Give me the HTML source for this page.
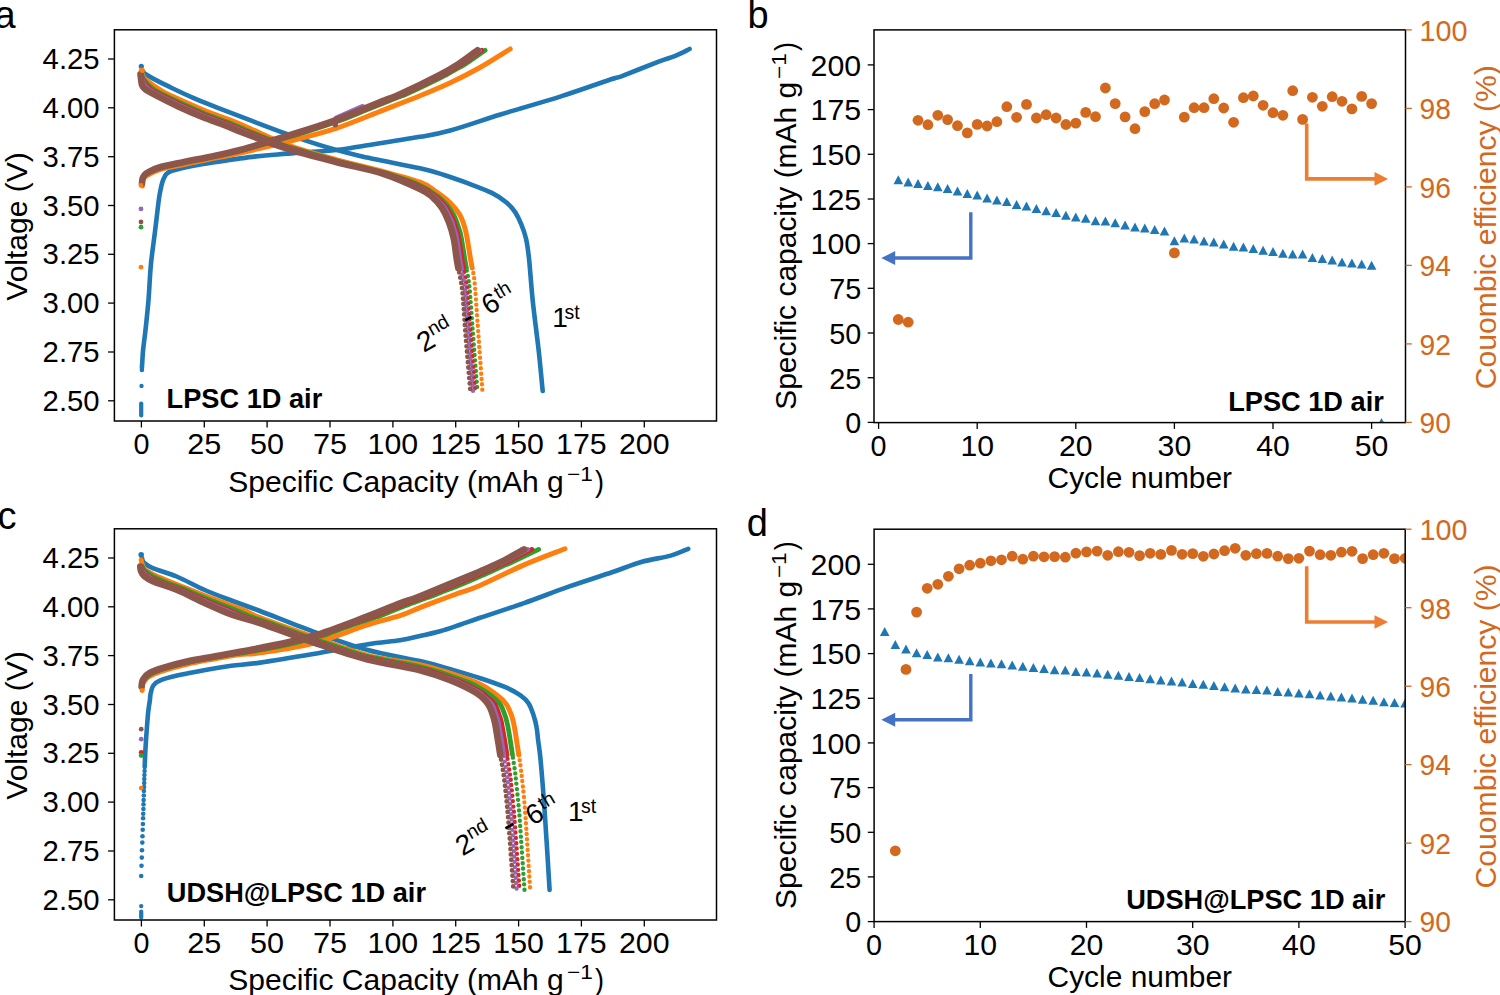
<!DOCTYPE html>
<html><head><meta charset="utf-8"><title>figure</title>
<style>html,body{margin:0;padding:0;background:#fff;overflow:hidden}svg{display:block}text{font-family:"Liberation Sans",sans-serif}</style>
</head><body>
<svg width="1500" height="995" viewBox="0 0 1500 995" font-family="Liberation Sans, sans-serif">
<rect width="1500" height="995" fill="#fff"/>
<text x="-5.5" y="27.9" font-size="38.0">a</text>
<text x="747.5" y="27.9" font-size="38.0">b</text>
<text x="-2.5" y="528.8" font-size="38.0">c</text>
<text x="746.8" y="535.6" font-size="38.0">d</text>
<clipPath id="clipa"><rect x="114.4" y="29.8" width="602.1" height="391.2"/></clipPath>
<g clip-path="url(#clipa)">
<path d="M141.9,368.0 C142.0,366.7 142.2,363.0 142.4,360.0 C142.6,357.0 142.6,355.0 143.1,350.0 C143.6,345.0 144.6,338.3 145.5,330.0 C146.4,321.7 147.6,310.9 148.5,300.0 C149.4,289.1 149.8,276.3 150.9,264.6 C152.0,252.9 153.9,240.8 155.2,230.0 C156.5,219.2 157.9,206.7 158.8,200.0 C159.7,193.3 159.9,193.0 160.5,190.0 C161.1,187.0 161.7,184.2 162.4,182.0 C163.1,179.8 163.8,178.3 164.5,177.0 C165.2,175.7 165.2,175.0 166.4,174.0 C167.7,173.0 167.7,172.1 172.0,170.8 C176.3,169.5 184.7,167.5 192.0,166.0 C199.3,164.5 205.3,163.6 216.0,162.0 C226.7,160.4 244.0,157.8 256.0,156.4 C268.0,155.0 274.7,154.7 288.0,153.6 C301.3,152.5 324.0,151.2 336.0,150.0 C348.0,148.8 346.0,148.6 360.0,146.4 C374.0,144.2 404.9,139.5 420.0,136.8 C435.1,134.2 436.9,134.2 450.3,130.5 C463.7,126.8 482.1,120.2 500.5,114.5 C518.9,108.8 542.5,102.3 560.9,96.4 C579.3,90.5 601.0,82.7 611.1,79.3 C621.2,75.9 613.4,79.2 621.3,76.3 C629.2,73.3 649.8,65.0 658.7,61.6 C667.6,58.2 669.6,58.2 674.7,56.1 C679.9,54.0 687.1,50.2 689.6,49.0" fill="none" stroke="#1f77b4" stroke-width="4.6" stroke-linecap="round" stroke-linejoin="round" />
<circle cx="141.3" cy="66.3" r="2.6" fill="#1f77b4"/>
<path d="M143.5,72.0 C143.7,72.2 142.7,72.3 144.5,73.5 C146.3,74.7 149.8,76.8 154.1,79.1 C158.4,81.4 163.5,84.0 170.2,87.2 C176.9,90.4 186.3,94.9 194.4,98.4 C202.5,101.9 209.2,104.5 218.5,108.1 C227.8,111.7 238.4,115.8 250.0,120.2 C261.6,124.6 275.7,130.0 288.0,134.4 C300.3,138.8 312.0,142.8 324.0,146.4 C336.0,150.0 344.0,152.3 360.0,156.0 C376.0,159.7 406.0,165.1 420.0,168.3 C434.0,171.5 436.1,172.5 444.1,175.0 C452.1,177.5 460.2,180.4 468.2,183.4 C476.2,186.4 485.9,189.9 492.3,193.1 C498.7,196.3 503.0,199.5 506.8,202.7 C510.6,205.9 512.9,208.8 515.3,212.4 C517.7,216.0 519.5,220.0 521.3,224.4 C523.1,228.8 524.8,233.1 526.1,238.9 C527.4,244.7 528.0,249.1 529.1,259.4 C530.2,269.6 531.1,285.2 532.7,300.4 C534.3,315.6 537.0,335.6 538.7,350.7 C540.4,365.8 542.0,384.3 542.7,391.0" fill="none" stroke="#1f77b4" stroke-width="4.6" stroke-linecap="round" stroke-linejoin="round" />
<line x1="141.2" y1="403.5" x2="141.2" y2="415.5" stroke="#1f77b4" stroke-width="4.2" stroke-linecap="round"/>
<circle cx="141.5" cy="385.9" r="2.2" fill="#1f77b4"/>
<circle cx="141.9" cy="369.9" r="2.3" fill="#1f77b4"/>
<path d="M142.4,186.0 C142.5,185.2 142.5,182.3 142.8,181.0 C143.1,179.7 143.5,178.8 144.0,178.0 C144.5,177.2 145.2,176.6 146.0,176.0 C146.8,175.4 146.7,175.5 149.0,174.4 C151.3,173.3 154.2,171.2 160.0,169.5 C165.8,167.8 176.0,166.2 184.0,164.5 C192.0,162.8 198.7,161.4 208.0,159.5 C217.3,157.6 226.7,156.0 240.0,153.0 C253.3,150.0 272.0,145.7 288.0,141.6 C304.0,137.5 320.0,133.7 336.0,128.4 C352.0,123.1 370.0,115.2 384.0,109.8 C398.0,104.4 408.9,100.3 420.0,95.8 C431.1,91.3 440.3,87.5 450.3,82.8 C460.3,78.1 470.0,73.1 480.0,67.5 C490.0,61.9 505.2,52.1 510.2,49.0" fill="none" stroke="#ff7f0e" stroke-width="5.0" stroke-linecap="round" stroke-linejoin="round" />
<path d="M141.3,70.3 C141.5,71.1 141.7,73.4 142.5,75.0 C143.3,76.6 142.8,77.3 146.1,80.0 C149.4,82.7 155.5,87.5 162.2,91.2 C168.9,95.0 178.3,98.9 186.3,102.5 C194.3,106.1 202.4,109.7 210.4,112.9 C218.4,116.1 228.0,119.2 234.6,121.8 C241.2,124.4 241.1,124.6 250.0,128.5 C258.9,132.4 273.7,140.0 288.0,145.2 C302.3,150.4 320.0,155.2 336.0,159.6 C352.0,164.0 370.0,167.8 384.0,171.6 C398.0,175.4 411.6,179.0 420.0,182.2 C428.4,185.4 429.5,187.2 434.5,190.6 C439.5,194.0 445.9,198.7 450.1,202.7 C454.3,206.7 457.2,210.0 459.8,214.8 C462.4,219.6 464.0,224.2 465.8,231.6 C467.6,239.0 469.5,253.3 470.6,259.4 C471.7,265.5 471.9,266.6 472.2,268.0" fill="none" stroke="#ff7f0e" stroke-width="5.0" stroke-linecap="round" stroke-linejoin="round" />
<path d="M472.2,268.0 C472.5,270.1 473.5,271.6 474.4,280.3 C475.3,289.1 476.1,302.1 477.4,320.5 C478.7,338.9 481.6,379.2 482.4,390.9" fill="none" stroke="#ff7f0e" stroke-width="4.4" stroke-linecap="round" stroke-linejoin="round" stroke-dasharray="0 5.3" stroke-dashoffset="0.00"/>
<path d="M142.1,183.6 C142.2,183.2 142.3,181.6 142.4,181.0 C142.4,180.4 142.4,180.5 142.5,180.0 C142.7,179.5 143.0,178.5 143.2,178.0 C143.4,177.5 143.4,177.5 143.6,177.2 C143.8,176.9 144.1,176.4 144.5,176.0 C144.9,175.6 145.1,175.1 146.0,174.5 C146.8,173.9 147.7,173.2 149.4,172.4 C151.1,171.6 153.8,170.4 156.0,169.5 C158.3,168.6 159.5,168.0 162.8,167.2 C166.0,166.4 171.3,165.4 175.3,164.5 C179.4,163.6 183.0,162.8 187.0,162.0 C191.0,161.2 195.4,160.3 199.4,159.5 C203.3,158.7 205.7,158.3 210.8,157.2 C215.9,156.1 224.6,154.2 230.0,153.0 C235.4,151.8 236.0,151.9 243.2,150.0 C250.3,148.1 264.6,144.0 273.0,141.6 C281.4,139.2 286.2,137.8 293.5,135.6 C300.7,133.4 308.6,131.0 316.6,128.4 C324.6,125.8 333.1,123.1 341.4,120.0 C349.8,116.9 358.7,113.0 366.8,109.8 C374.9,106.5 384.1,102.8 390.0,100.5 C395.9,98.2 399.4,96.8 402.1,95.8 C404.7,94.8 401.2,96.5 405.9,94.3 C410.6,92.1 423.4,86.1 430.2,82.8 C437.0,79.5 441.9,77.1 446.7,74.6 C451.5,72.0 455.9,69.4 459.2,67.5 C462.6,65.6 462.5,65.9 466.8,63.0 C471.1,60.1 482.0,52.4 485.1,50.3" fill="none" stroke="#2ca02c" stroke-width="4.8" stroke-linecap="round" stroke-linejoin="round" />
<path d="M141.6,74.3 C141.6,74.4 141.3,74.0 141.7,75.0 C142.1,76.0 142.9,78.4 144.0,80.0 C145.2,81.6 146.9,83.3 148.4,84.8 C149.9,86.3 151.8,87.9 153.1,89.0 C154.5,90.1 154.9,90.3 156.5,91.2 C158.1,92.1 158.9,92.5 162.8,94.4 C166.6,96.3 175.3,100.5 179.6,102.5 C183.8,104.5 184.4,104.8 188.3,106.5 C192.2,108.2 198.9,111.2 203.1,112.9 C207.3,114.7 209.6,115.5 213.5,117.0 C217.4,118.5 222.6,120.3 226.5,121.8 C230.4,123.3 234.1,124.9 236.8,126.0 C239.5,127.1 239.8,127.2 242.7,128.5 C245.7,129.8 247.7,130.7 254.5,133.5 C261.3,136.3 277.0,142.6 283.8,145.2 C290.5,147.8 286.9,146.4 295.0,148.8 C303.1,151.2 324.6,157.4 332.3,159.6 C340.1,161.8 333.6,160.0 341.6,162.0 C349.5,164.0 372.1,169.6 380.0,171.6 C387.8,173.6 383.2,172.2 388.7,174.0 C394.3,175.8 406.8,179.7 413.1,182.2 C419.5,184.7 424.1,187.6 426.8,189.0 C429.5,190.4 427.6,189.3 429.5,190.6 C431.3,191.9 435.5,194.7 438.1,196.7 C440.6,198.7 443.0,200.9 444.8,202.7 C446.6,204.5 447.3,205.5 448.8,207.5 C450.3,209.5 452.4,212.4 453.7,214.8 C455.0,217.2 455.7,219.2 456.7,222.0 C457.7,224.8 459.1,228.8 459.9,231.6 C460.7,234.4 460.7,234.3 461.5,238.9 C462.3,243.5 464.0,254.5 464.8,259.4 C465.6,264.2 466.1,266.6 466.4,268.0" fill="none" stroke="#2ca02c" stroke-width="4.8" stroke-linecap="round" stroke-linejoin="round" />
<path d="M466.4,268.0 C466.7,270.1 468.0,276.6 468.6,280.3 C469.1,284.0 469.2,283.7 469.8,290.4 C470.3,297.1 471.5,313.8 472.0,320.5 C472.5,327.2 471.8,318.9 472.7,330.6 C473.6,342.3 476.6,380.8 477.4,390.9" fill="none" stroke="#2ca02c" stroke-width="4.4" stroke-linecap="round" stroke-linejoin="round" stroke-dasharray="0 5.3" stroke-dashoffset="2.60"/>
<path d="M142.1,183.6 C142.1,183.2 142.2,181.6 142.3,181.0 C142.4,180.4 142.3,180.5 142.4,180.0 C142.6,179.5 142.9,178.5 143.1,178.0 C143.3,177.5 143.2,177.5 143.4,177.2 C143.6,176.9 143.9,176.4 144.3,176.0 C144.6,175.6 144.8,175.1 145.5,174.5 C146.3,173.9 147.1,173.2 148.8,172.4 C150.4,171.6 153.3,170.4 155.4,169.5 C157.6,168.6 158.4,168.0 161.5,167.2 C164.7,166.4 170.1,165.4 174.1,164.5 C178.1,163.6 181.7,162.8 185.7,162.0 C189.7,161.2 194.1,160.3 198.1,159.5 C202.1,158.7 204.5,158.3 209.6,157.2 C214.7,156.1 223.2,154.2 228.5,153.0 C233.9,151.8 234.7,151.9 241.8,150.0 C248.8,148.1 262.6,144.0 270.8,141.6 C279.0,139.2 283.9,137.8 291.1,135.6 C298.2,133.4 305.8,131.0 313.8,128.4 C321.8,125.8 330.6,123.1 339.0,120.0 C347.5,116.9 356.3,113.0 364.3,109.8 C372.4,106.5 381.5,102.8 387.3,100.5 C393.2,98.2 396.8,96.8 399.5,95.8 C402.1,94.8 398.7,96.5 403.3,94.3 C407.9,92.1 420.5,86.1 427.2,82.8 C434.0,79.5 439.0,77.1 443.8,74.6 C448.7,72.0 452.9,69.4 456.2,67.5 C459.5,65.6 459.6,65.9 463.8,63.0 C468.1,60.1 478.7,52.4 481.7,50.3" fill="none" stroke="#d62728" stroke-width="4.8" stroke-linecap="round" stroke-linejoin="round" />
<path d="M141.2,74.3 C141.2,74.4 141.0,74.0 141.3,75.0 C141.6,76.0 142.3,78.4 143.1,80.0 C143.9,81.6 145.0,83.3 146.2,84.8 C147.4,86.3 149.1,87.9 150.3,89.0 C151.6,90.1 152.3,90.3 153.8,91.2 C155.4,92.1 156.0,92.5 159.8,94.4 C163.5,96.3 172.2,100.5 176.4,102.5 C180.6,104.5 181.0,104.8 184.9,106.5 C188.7,108.2 195.5,111.2 199.6,112.9 C203.7,114.7 205.8,115.5 209.7,117.0 C213.5,118.5 218.7,120.3 222.6,121.8 C226.5,123.3 230.5,124.9 233.2,126.0 C236.0,127.1 236.3,127.2 239.3,128.5 C242.2,129.8 244.1,130.7 251.2,133.5 C258.3,136.3 274.8,142.6 281.7,145.2 C288.6,147.8 284.4,146.4 292.6,148.8 C300.7,151.2 322.7,157.4 330.6,159.6 C338.4,161.8 331.7,160.0 339.6,162.0 C347.6,164.0 370.1,169.6 378.0,171.6 C386.0,173.6 381.8,172.2 387.1,174.0 C392.4,175.8 403.7,179.7 409.9,182.2 C416.1,184.7 421.6,187.6 424.5,189.0 C427.3,190.4 425.1,189.3 427.1,190.6 C429.0,191.9 433.5,194.7 436.0,196.7 C438.5,198.7 440.5,200.9 442.2,202.7 C444.0,204.5 444.9,205.5 446.4,207.5 C447.8,209.5 449.5,212.4 450.8,214.8 C452.1,217.2 453.0,219.2 454.0,222.0 C455.1,224.8 456.2,228.8 457.0,231.6 C457.9,234.4 458.0,234.3 458.8,238.9 C459.7,243.5 461.3,254.5 462.0,259.4 C462.8,264.2 463.3,266.6 463.6,268.0" fill="none" stroke="#d62728" stroke-width="4.8" stroke-linecap="round" stroke-linejoin="round" />
<path d="M463.6,268.0 C464.0,270.1 465.2,276.6 465.8,280.3 C466.4,284.0 466.6,283.7 467.2,290.4 C467.8,297.1 468.9,313.8 469.4,320.5 C469.9,327.2 469.2,318.9 470.2,330.6 C471.1,342.3 474.2,380.8 475.0,390.9" fill="none" stroke="#d62728" stroke-width="4.4" stroke-linecap="round" stroke-linejoin="round" stroke-dasharray="0 5.3" stroke-dashoffset="1.30"/>
<path d="M142.0,183.6 C142.1,183.2 142.2,181.6 142.3,181.0 C142.3,180.4 142.2,180.5 142.4,180.0 C142.5,179.5 142.9,178.5 143.0,178.0 C143.2,177.5 143.1,177.5 143.3,177.2 C143.5,176.9 143.8,176.4 144.1,176.0 C144.5,175.6 144.6,175.1 145.3,174.5 C146.0,173.9 146.8,173.2 148.4,172.4 C150.0,171.6 153.0,170.4 155.1,169.5 C157.1,168.6 157.7,168.0 160.8,167.2 C163.8,166.4 169.3,165.4 173.3,164.5 C177.3,163.6 180.8,162.8 184.8,162.0 C188.8,161.2 193.3,160.3 197.3,159.5 C201.3,158.7 203.7,158.3 208.8,157.2 C213.8,156.1 222.3,154.2 227.6,153.0 C232.9,151.8 233.9,151.9 240.9,150.0 C247.9,148.1 261.3,144.0 269.4,141.6 C277.5,139.2 282.4,137.8 289.5,135.6 C296.6,133.4 304.0,131.0 312.0,128.4 C320.0,125.8 329.1,123.1 337.5,120.0 C346.0,116.9 354.7,113.0 362.7,109.8 C370.7,106.5 379.8,102.8 385.7,100.5 C391.5,98.2 395.1,96.8 397.8,95.8 C400.5,94.8 397.1,96.5 401.6,94.3 C406.2,92.1 418.6,86.1 425.3,82.8 C432.1,79.5 437.2,77.1 442.0,74.6 C446.8,72.0 450.9,69.4 454.3,67.5 C457.6,65.6 457.7,65.9 461.9,63.0 C466.1,60.1 476.6,52.4 479.5,50.3" fill="none" stroke="#9467bd" stroke-width="4.8" stroke-linecap="round" stroke-linejoin="round" />
<path d="M140.9,74.3 C140.9,74.4 140.8,74.0 141.0,75.0 C141.2,76.0 141.7,78.4 142.3,80.0 C142.8,81.6 143.5,83.3 144.4,84.8 C145.4,86.3 146.9,87.9 148.1,89.0 C149.3,90.1 150.1,90.3 151.7,91.2 C153.2,92.1 153.7,92.5 157.4,94.4 C161.1,96.3 169.7,100.5 173.8,102.5 C177.9,104.5 178.3,104.8 182.1,106.5 C185.9,108.2 192.7,111.2 196.8,112.9 C200.9,114.7 202.8,115.5 206.6,117.0 C210.4,118.5 215.5,120.3 219.5,121.8 C223.5,123.3 227.6,124.9 230.4,126.0 C233.2,127.1 233.4,127.2 236.5,128.5 C239.5,129.8 241.3,130.7 248.6,133.5 C255.9,136.3 273.1,142.6 280.1,145.2 C287.1,147.8 282.5,146.4 290.6,148.8 C298.8,151.2 321.3,157.4 329.2,159.6 C337.1,161.8 330.2,160.0 338.1,162.0 C346.0,164.0 368.6,169.6 376.5,171.6 C384.5,173.6 380.7,172.2 385.8,174.0 C390.9,175.8 401.1,179.7 407.3,182.2 C413.4,184.7 419.6,187.6 422.6,189.0 C425.6,190.4 423.2,189.3 425.2,190.6 C427.1,191.9 431.8,194.7 434.4,196.7 C436.9,198.7 438.5,200.9 440.2,202.7 C441.9,204.5 443.0,205.5 444.4,207.5 C445.8,209.5 447.3,212.4 448.5,214.8 C449.8,217.2 450.8,219.2 451.9,222.0 C452.9,224.8 454.0,228.8 454.8,231.6 C455.6,234.4 455.9,234.3 456.7,238.9 C457.6,243.5 459.1,254.5 459.8,259.4 C460.6,264.2 461.1,266.6 461.4,268.0" fill="none" stroke="#9467bd" stroke-width="4.8" stroke-linecap="round" stroke-linejoin="round" />
<path d="M461.4,268.0 C461.7,270.1 462.9,276.6 463.6,280.3 C464.2,284.0 464.5,283.7 465.1,290.4 C465.8,297.1 466.9,313.8 467.4,320.5 C467.9,327.2 467.2,318.9 468.1,330.6 C469.1,342.3 472.2,380.8 473.0,390.9" fill="none" stroke="#9467bd" stroke-width="4.4" stroke-linecap="round" stroke-linejoin="round" stroke-dasharray="0 5.3" stroke-dashoffset="3.90"/>
<line x1="336.5" y1="118.4" x2="362.5" y2="107.0" stroke="#9467bd" stroke-width="6" stroke-linecap="round"/>
<path d="M142.0,183.6 C142.1,183.0 142.1,181.1 142.3,180.0 C142.5,178.9 142.8,178.1 143.2,177.2 C143.6,176.3 144.2,175.3 145.0,174.5 C145.8,173.7 145.5,173.6 148.0,172.4 C150.5,171.2 154.0,168.9 160.0,167.2 C166.0,165.5 176.0,163.7 184.0,162.0 C192.0,160.3 198.7,159.2 208.0,157.2 C217.3,155.2 226.7,153.6 240.0,150.0 C253.3,146.4 272.0,140.6 288.0,135.6 C304.0,130.6 320.0,125.8 336.0,120.0 C352.0,114.2 373.3,104.8 384.0,100.5 C394.7,96.2 390.6,98.6 400.0,94.3 C409.4,90.0 430.2,79.8 440.2,74.6 C450.2,69.4 453.8,67.0 460.0,63.0 C466.2,59.0 474.5,52.4 477.4,50.3" fill="none" stroke="#8c564b" stroke-width="6.6" stroke-linecap="round" stroke-linejoin="round" />
<circle cx="335.3" cy="124.8" r="2.7" fill="#8c564b"/>
<path d="M140.5,74.3 C140.6,75.2 140.9,78.2 141.2,80.0 C141.4,81.8 141.4,83.3 142.0,84.8 C142.6,86.3 143.0,87.4 145.0,89.0 C147.0,90.6 148.5,91.5 154.1,94.4 C159.7,97.3 170.2,102.7 178.3,106.5 C186.4,110.3 194.4,113.8 202.4,117.0 C210.4,120.2 219.4,123.2 226.5,126.0 C233.6,128.8 234.8,129.7 245.0,133.5 C255.2,137.3 272.8,144.1 288.0,148.8 C303.2,153.6 320.0,157.8 336.0,162.0 C352.0,166.2 370.0,169.5 384.0,174.0 C398.0,178.5 412.0,185.2 420.0,189.0 C428.0,192.8 428.5,193.6 432.1,196.7 C435.7,199.8 438.9,203.3 441.7,207.5 C444.5,211.7 446.9,216.8 448.9,222.0 C450.9,227.2 452.5,232.7 453.8,238.9 C455.1,245.1 456.0,254.5 456.8,259.4 C457.6,264.2 458.1,266.6 458.3,268.0" fill="none" stroke="#8c564b" stroke-width="6.6" stroke-linecap="round" stroke-linejoin="round" />
<path d="M458.3,268.0 C459.0,271.7 461.1,280.0 462.3,290.4 C463.5,300.8 464.0,313.9 465.3,330.6 C466.6,347.4 469.5,380.8 470.4,390.9" fill="none" stroke="#8c564b" stroke-width="4.8" stroke-linecap="round" stroke-linejoin="round" stroke-dasharray="0 5.3" stroke-dashoffset="0.65"/>
<circle cx="142.3" cy="70.3" r="2.6" fill="#ff7f0e"/>
<circle cx="141.0" cy="185.4" r="2.4" fill="#ff7f0e"/>
<circle cx="141.0" cy="267.2" r="2.4" fill="#ff7f0e"/>
<circle cx="141.0" cy="208.9" r="2.4" fill="#9467bd"/>
<circle cx="141.0" cy="222.0" r="2.4" fill="#8c564b"/>
<circle cx="141.0" cy="227.2" r="2.4" fill="#2ca02c"/>
</g>
<rect x="114.4" y="29.8" width="602.1" height="391.2" fill="none" stroke="#000" stroke-width="1.5"/>
<line x1="141.4" y1="421.0" x2="141.4" y2="427.5" stroke="#000" stroke-width="1.3"/>
<text x="141.4" y="454.0" font-size="28.7" text-anchor="middle" textLength="16.0" lengthAdjust="spacingAndGlyphs">0</text>
<line x1="204.3" y1="421.0" x2="204.3" y2="427.5" stroke="#000" stroke-width="1.3"/>
<text x="204.3" y="454.0" font-size="28.7" text-anchor="middle" textLength="34.0" lengthAdjust="spacingAndGlyphs">25</text>
<line x1="267.1" y1="421.0" x2="267.1" y2="427.5" stroke="#000" stroke-width="1.3"/>
<text x="267.1" y="454.0" font-size="28.7" text-anchor="middle" textLength="34.0" lengthAdjust="spacingAndGlyphs">50</text>
<line x1="330.0" y1="421.0" x2="330.0" y2="427.5" stroke="#000" stroke-width="1.3"/>
<text x="330.0" y="454.0" font-size="28.7" text-anchor="middle" textLength="34.0" lengthAdjust="spacingAndGlyphs">75</text>
<line x1="392.9" y1="421.0" x2="392.9" y2="427.5" stroke="#000" stroke-width="1.3"/>
<text x="392.9" y="454.0" font-size="28.7" text-anchor="middle" textLength="50.6" lengthAdjust="spacingAndGlyphs">100</text>
<line x1="455.7" y1="421.0" x2="455.7" y2="427.5" stroke="#000" stroke-width="1.3"/>
<text x="455.7" y="454.0" font-size="28.7" text-anchor="middle" textLength="50.6" lengthAdjust="spacingAndGlyphs">125</text>
<line x1="518.6" y1="421.0" x2="518.6" y2="427.5" stroke="#000" stroke-width="1.3"/>
<text x="518.6" y="454.0" font-size="28.7" text-anchor="middle" textLength="50.6" lengthAdjust="spacingAndGlyphs">150</text>
<line x1="581.4" y1="421.0" x2="581.4" y2="427.5" stroke="#000" stroke-width="1.3"/>
<text x="581.4" y="454.0" font-size="28.7" text-anchor="middle" textLength="50.6" lengthAdjust="spacingAndGlyphs">175</text>
<line x1="644.3" y1="421.0" x2="644.3" y2="427.5" stroke="#000" stroke-width="1.3"/>
<text x="644.3" y="454.0" font-size="28.7" text-anchor="middle" textLength="50.6" lengthAdjust="spacingAndGlyphs">200</text>
<line x1="108.1" y1="400.8" x2="114.4" y2="400.8" stroke="#000" stroke-width="1.3"/>
<text x="99.6" y="410.8" font-size="28.7" text-anchor="end" textLength="57.0" lengthAdjust="spacingAndGlyphs">2.50</text>
<line x1="108.1" y1="352.0" x2="114.4" y2="352.0" stroke="#000" stroke-width="1.3"/>
<text x="99.6" y="362.0" font-size="28.7" text-anchor="end" textLength="57.0" lengthAdjust="spacingAndGlyphs">2.75</text>
<line x1="108.1" y1="303.1" x2="114.4" y2="303.1" stroke="#000" stroke-width="1.3"/>
<text x="99.6" y="313.1" font-size="28.7" text-anchor="end" textLength="57.0" lengthAdjust="spacingAndGlyphs">3.00</text>
<line x1="108.1" y1="254.3" x2="114.4" y2="254.3" stroke="#000" stroke-width="1.3"/>
<text x="99.6" y="264.3" font-size="28.7" text-anchor="end" textLength="57.0" lengthAdjust="spacingAndGlyphs">3.25</text>
<line x1="108.1" y1="205.5" x2="114.4" y2="205.5" stroke="#000" stroke-width="1.3"/>
<text x="99.6" y="215.5" font-size="28.7" text-anchor="end" textLength="57.0" lengthAdjust="spacingAndGlyphs">3.50</text>
<line x1="108.1" y1="156.7" x2="114.4" y2="156.7" stroke="#000" stroke-width="1.3"/>
<text x="99.6" y="166.7" font-size="28.7" text-anchor="end" textLength="57.0" lengthAdjust="spacingAndGlyphs">3.75</text>
<line x1="108.1" y1="107.8" x2="114.4" y2="107.8" stroke="#000" stroke-width="1.3"/>
<text x="99.6" y="117.8" font-size="28.7" text-anchor="end" textLength="57.0" lengthAdjust="spacingAndGlyphs">4.00</text>
<line x1="108.1" y1="59.0" x2="114.4" y2="59.0" stroke="#000" stroke-width="1.3"/>
<text x="99.6" y="69.0" font-size="28.7" text-anchor="end" textLength="57.0" lengthAdjust="spacingAndGlyphs">4.25</text>
<text x="27.4" y="300.7" font-size="28.7" textLength="148.5" lengthAdjust="spacingAndGlyphs" transform="rotate(-90 27.4 300.7)">Voltage (V)</text>
<text x="228.3" y="491.6" font-size="28.7" textLength="335.5" lengthAdjust="spacingAndGlyphs">Specific Capacity (mAh g</text>
<text x="567.0" y="481.2" font-size="20.0" textLength="25.8" lengthAdjust="spacingAndGlyphs">−1</text>
<text x="595.0" y="491.6" font-size="28.7" textLength="9.0" lengthAdjust="spacingAndGlyphs">)</text>
<text x="166.6" y="408.0" font-size="27.2" font-weight="bold">LPSC 1D air</text>
<clipPath id="clipc"><rect x="114.4" y="528.8" width="602.1" height="391.2"/></clipPath>
<g clip-path="url(#clipc)">
<path d="M144.7,767.0 C144.8,764.2 145.1,755.2 145.4,750.0 C145.7,744.8 145.9,742.2 146.3,736.0 C146.8,729.8 147.5,719.0 148.1,713.0 C148.7,707.0 149.5,703.3 149.9,700.0 C150.3,696.7 150.1,695.7 150.7,693.3 C151.3,690.9 151.7,687.7 153.3,685.5 C154.9,683.3 156.0,682.0 160.3,680.3 C164.6,678.6 171.8,676.8 179.3,675.1 C186.8,673.4 196.6,671.5 205.3,669.9 C214.0,668.3 222.2,667.0 231.3,665.8 C240.4,664.6 246.3,664.6 260.0,662.6 C273.7,660.6 295.5,657.0 313.3,654.0 C331.1,651.0 352.2,646.7 366.7,644.4 C381.1,642.1 391.1,641.7 400.0,640.3 C408.9,638.9 413.3,637.5 420.0,636.0 C426.7,634.5 433.3,633.2 440.0,631.3 C446.7,629.4 453.3,627.0 460.0,624.7 C466.7,622.5 469.3,621.4 480.0,617.8 C490.7,614.2 509.3,608.2 524.0,603.1 C538.7,598.0 553.3,592.0 568.0,586.9 C582.7,581.8 599.8,576.4 612.0,572.3 C624.2,568.1 631.5,564.8 641.3,562.0 C651.1,559.2 662.9,557.8 670.7,555.6 C678.5,553.4 685.4,549.9 688.3,548.8" fill="none" stroke="#1f77b4" stroke-width="4.6" stroke-linecap="round" stroke-linejoin="round" />
<circle cx="141.2" cy="876.0" r="2.3" fill="#1f77b4"/>
<circle cx="141.5" cy="865.7" r="2.3" fill="#1f77b4"/>
<circle cx="141.8" cy="857.6" r="2.3" fill="#1f77b4"/>
<circle cx="142.0" cy="850.2" r="2.3" fill="#1f77b4"/>
<circle cx="142.3" cy="842.6" r="2.3" fill="#1f77b4"/>
<circle cx="142.5" cy="836.3" r="2.3" fill="#1f77b4"/>
<circle cx="142.7" cy="829.8" r="2.3" fill="#1f77b4"/>
<circle cx="142.9" cy="824.0" r="2.3" fill="#1f77b4"/>
<circle cx="143.1" cy="818.3" r="2.3" fill="#1f77b4"/>
<circle cx="143.2" cy="813.7" r="2.3" fill="#1f77b4"/>
<circle cx="143.4" cy="809.0" r="2.3" fill="#1f77b4"/>
<circle cx="143.5" cy="804.4" r="2.3" fill="#1f77b4"/>
<circle cx="143.6" cy="800.0" r="2.3" fill="#1f77b4"/>
<circle cx="143.8" cy="795.5" r="2.3" fill="#1f77b4"/>
<circle cx="143.9" cy="791.0" r="2.3" fill="#1f77b4"/>
<circle cx="144.1" cy="787.0" r="2.3" fill="#1f77b4"/>
<circle cx="144.2" cy="783.0" r="2.3" fill="#1f77b4"/>
<circle cx="144.3" cy="779.0" r="2.3" fill="#1f77b4"/>
<circle cx="144.4" cy="775.0" r="2.3" fill="#1f77b4"/>
<circle cx="144.6" cy="771.0" r="2.3" fill="#1f77b4"/>
<path d="M142.0,558.0 C142.3,558.8 142.1,561.0 144.0,562.7 C145.9,564.4 147.9,566.0 153.3,568.3 C158.8,570.6 168.1,572.9 176.7,576.5 C185.3,580.1 195.4,585.9 204.7,590.0 C214.0,594.1 223.5,597.5 232.7,601.0 C241.9,604.5 246.6,605.9 260.0,611.0 C273.4,616.1 295.5,625.1 313.3,631.6 C331.1,638.1 348.9,644.8 366.7,649.7 C384.5,654.6 406.1,657.9 420.0,661.1 C433.9,664.3 440.1,666.2 450.2,669.1 C460.2,672.0 471.1,675.2 480.3,678.2 C489.5,681.2 498.7,684.4 505.4,687.2 C512.1,690.1 516.6,692.6 520.5,695.3 C524.4,698.0 526.3,699.9 528.5,703.3 C530.7,706.6 532.2,711.4 533.6,715.4 C535.0,719.4 535.9,723.3 536.6,727.4 C537.4,731.5 537.4,734.5 538.1,740.0 C538.8,745.5 539.5,748.5 540.6,760.3 C541.7,772.1 543.1,789.0 544.6,810.6 C546.1,832.2 548.8,876.8 549.6,890.0" fill="none" stroke="#1f77b4" stroke-width="4.6" stroke-linecap="round" stroke-linejoin="round" />
<circle cx="141.2" cy="554.8" r="2.8" fill="#1f77b4"/>
<line x1="141.2" y1="911.5" x2="141.2" y2="917.5" stroke="#1f77b4" stroke-width="4.2" stroke-linecap="round"/>
<circle cx="141.2" cy="906.1" r="2.2" fill="#1f77b4"/>
<path d="M142.1,690.3 C142.2,689.4 142.2,686.5 142.6,685.0 C142.9,683.5 143.0,683.0 144.2,681.5 C145.3,680.0 146.5,678.0 149.5,676.3 C152.5,674.5 155.6,673.0 162.0,671.0 C168.4,669.0 179.3,666.0 188.0,664.0 C196.7,662.0 205.3,660.6 214.0,659.0 C222.7,657.4 232.3,655.5 240.0,654.5 C247.7,653.5 247.8,654.8 260.0,652.9 C272.2,651.0 295.5,647.9 313.3,643.3 C331.1,638.7 352.2,629.8 366.7,625.2 C381.1,620.6 391.1,618.6 400.0,615.7 C408.9,612.8 413.3,610.2 420.0,607.6 C426.7,605.0 433.3,602.5 440.0,600.0 C446.7,597.5 453.3,595.1 460.0,592.7 C466.7,590.3 469.3,590.1 480.0,585.5 C490.7,580.9 509.8,571.0 524.0,564.9 C538.2,558.8 558.2,551.5 565.0,548.8" fill="none" stroke="#ff7f0e" stroke-width="5.0" stroke-linecap="round" stroke-linejoin="round" />
<path d="M141.2,560.0 C141.4,560.8 141.7,563.3 142.5,565.0 C143.3,566.7 143.3,568.2 145.9,570.2 C148.5,572.2 151.3,573.7 158.0,576.7 C164.7,579.7 176.7,584.2 186.0,588.0 C195.3,591.8 204.7,595.6 214.0,599.2 C223.3,602.8 234.3,606.3 242.0,609.4 C249.7,612.5 248.1,613.1 260.0,617.7 C271.9,622.3 295.5,630.7 313.3,636.9 C331.1,643.1 348.9,650.5 366.7,655.1 C384.5,659.7 406.1,661.6 420.0,664.6 C433.9,667.6 440.1,669.9 450.2,673.2 C460.2,676.5 472.3,680.4 480.3,684.2 C488.3,688.1 494.0,692.9 498.4,696.3 C502.8,699.6 504.2,701.1 506.4,704.3 C508.6,707.5 510.1,711.5 511.5,715.4 C512.9,719.2 513.7,723.3 514.5,727.4 C515.3,731.5 515.8,735.4 516.5,740.0 C517.2,744.6 518.4,752.5 518.8,755.0" fill="none" stroke="#ff7f0e" stroke-width="5.0" stroke-linecap="round" stroke-linejoin="round" />
<path d="M518.8,755.0 C519.1,757.5 520.0,760.8 521.0,770.0 C522.0,779.2 523.5,790.0 525.0,810.0 C526.5,830.0 529.3,876.7 530.2,890.0" fill="none" stroke="#ff7f0e" stroke-width="4.4" stroke-linecap="round" stroke-linejoin="round" stroke-dasharray="0 5.3" stroke-dashoffset="0.00"/>
<path d="M141.9,686.4 C141.9,686.2 141.9,685.7 142.1,685.0 C142.2,684.3 142.4,683.1 142.9,682.0 C143.3,680.9 144.3,679.6 145.0,678.6 C145.8,677.6 146.2,677.2 147.4,676.3 C148.5,675.4 150.0,674.3 151.7,673.4 C153.4,672.5 155.2,671.9 157.6,671.0 C159.9,670.1 161.8,669.4 165.8,668.2 C169.8,667.0 177.0,665.1 181.6,664.0 C186.1,662.9 189.2,662.1 193.2,661.3 C197.2,660.5 201.1,659.8 205.5,659.0 C209.8,658.2 215.2,657.2 219.3,656.5 C223.5,655.8 226.5,655.1 230.4,654.5 C234.4,653.9 240.1,653.4 243.3,652.9 C246.5,652.4 245.4,652.5 249.9,651.7 C254.3,650.9 262.7,649.5 269.9,648.1 C277.0,646.7 284.3,645.3 292.9,643.3 C301.5,641.3 311.6,638.9 321.4,635.9 C331.2,632.9 342.4,628.4 351.8,625.2 C361.2,622.0 372.9,618.3 377.7,616.7 C382.5,615.1 376.8,617.2 380.6,615.7 C384.4,614.2 395.5,609.7 400.7,607.6 C405.8,605.5 408.3,604.6 411.6,603.3 C414.9,602.0 417.4,601.2 420.7,600.0 C423.9,598.8 428.0,597.4 431.3,596.2 C434.5,595.0 435.6,594.5 440.2,592.7 C444.7,590.9 450.1,589.0 458.6,585.5 C467.1,582.0 483.2,574.9 491.1,571.5 C498.9,568.1 502.2,566.4 505.5,564.9 C508.9,563.4 505.6,565.1 511.1,562.5 C516.7,559.9 534.0,551.6 538.6,549.4" fill="none" stroke="#2ca02c" stroke-width="4.8" stroke-linecap="round" stroke-linejoin="round" />
<path d="M142.4,566.5 C142.7,567.1 143.7,569.5 144.2,570.2 C144.7,571.0 143.9,570.1 145.2,571.0 C146.5,571.9 150.7,574.8 152.1,575.8 C153.6,576.8 151.8,575.8 153.7,576.7 C155.7,577.6 159.5,579.5 164.1,581.4 C168.7,583.3 177.5,586.6 181.1,588.0 C184.8,589.4 181.3,587.9 185.8,589.8 C190.3,591.7 202.9,597.0 208.1,599.2 C213.4,601.4 213.2,601.2 217.5,602.9 C221.9,604.6 229.5,607.4 234.4,609.4 C239.3,611.4 243.6,613.6 246.9,615.0 C250.1,616.4 250.0,616.4 253.8,617.7 C257.7,619.1 260.8,619.9 269.9,623.1 C279.0,626.3 299.2,633.7 308.2,636.9 C317.2,640.1 314.8,639.3 323.8,642.3 C332.8,645.3 352.5,652.3 362.2,655.1 C372.0,657.9 374.2,657.7 382.3,659.3 C390.3,660.9 402.2,662.8 410.7,664.6 C419.1,666.4 427.6,668.8 433.0,670.2 C438.4,671.6 438.0,671.5 443.0,673.2 C448.0,674.9 457.9,678.4 462.8,680.2 C467.8,682.0 468.9,682.2 472.9,684.2 C476.8,686.2 483.4,690.3 486.6,692.3 C489.8,694.3 489.7,694.3 492.0,696.3 C494.3,698.3 498.1,701.1 500.2,704.3 C502.4,707.5 504.0,712.7 505.0,715.4 C506.1,718.1 506.0,718.4 506.5,720.4 C507.0,722.4 507.5,724.1 508.1,727.4 C508.7,730.7 509.4,735.4 510.2,740.0 C510.9,744.6 512.1,752.5 512.5,755.0" fill="none" stroke="#2ca02c" stroke-width="4.8" stroke-linecap="round" stroke-linejoin="round" />
<path d="M512.5,755.0 C512.9,757.5 514.2,765.8 514.8,770.0 C515.4,774.2 515.3,773.7 516.0,780.4 C516.7,787.1 518.4,803.3 519.0,810.0 C519.6,816.7 518.9,807.3 519.8,820.6 C520.7,833.9 523.7,878.4 524.5,890.0" fill="none" stroke="#2ca02c" stroke-width="4.4" stroke-linecap="round" stroke-linejoin="round" stroke-dasharray="0 5.3" stroke-dashoffset="2.60"/>
<path d="M141.8,686.4 C141.8,686.2 141.8,685.7 142.0,685.0 C142.1,684.3 142.1,683.1 142.6,682.0 C143.0,680.9 143.8,679.6 144.5,678.6 C145.2,677.6 145.8,677.2 146.8,676.3 C147.8,675.4 148.9,674.3 150.5,673.4 C152.1,672.5 154.1,671.9 156.4,671.0 C158.7,670.1 160.2,669.4 164.1,668.2 C168.0,667.0 175.4,665.1 179.9,664.0 C184.3,662.9 186.9,662.1 190.8,661.3 C194.7,660.5 198.8,659.8 203.2,659.0 C207.5,658.2 212.8,657.2 216.9,656.5 C221.0,655.8 224.2,655.1 227.9,654.5 C231.5,653.9 235.9,653.4 238.8,652.9 C241.7,652.4 240.9,652.5 245.3,651.7 C249.8,650.9 258.3,649.5 265.3,648.1 C272.3,646.7 278.7,645.3 287.4,643.3 C296.2,641.3 307.6,638.9 317.7,635.9 C327.7,632.9 338.6,628.4 347.8,625.2 C357.0,622.0 368.1,618.3 372.7,616.7 C377.3,615.1 371.5,617.2 375.3,615.7 C379.1,614.2 390.3,609.7 395.5,607.6 C400.6,605.5 402.9,604.6 406.3,603.3 C409.6,602.0 412.1,601.2 415.4,600.0 C418.7,598.8 422.9,597.4 426.1,596.2 C429.3,595.0 430.3,594.5 434.8,592.7 C439.3,590.9 444.3,589.0 452.8,585.5 C461.3,582.0 478.0,574.9 486.0,571.5 C493.9,568.1 497.2,566.4 500.5,564.9 C503.9,563.4 500.8,565.1 506.0,562.5 C511.2,559.9 527.6,551.6 531.9,549.4" fill="none" stroke="#d62728" stroke-width="4.8" stroke-linecap="round" stroke-linejoin="round" />
<path d="M141.4,566.5 C141.7,567.1 142.4,569.5 142.7,570.2 C143.0,571.0 142.3,570.1 143.3,571.0 C144.3,571.9 147.3,574.8 148.4,575.8 C149.6,576.8 148.2,575.8 150.0,576.7 C151.8,577.6 154.7,579.5 159.2,581.4 C163.7,583.3 173.1,586.6 176.8,588.0 C180.6,589.4 177.3,587.9 181.7,589.8 C186.0,591.7 198.0,597.0 203.0,599.2 C208.0,601.4 207.6,601.2 211.7,602.9 C215.8,604.6 223.0,607.4 227.8,609.4 C232.5,611.4 237.0,613.6 240.4,615.0 C243.9,616.4 244.2,616.4 248.4,617.7 C252.5,619.1 256.2,619.9 265.4,623.1 C274.6,626.3 294.8,633.7 303.7,636.9 C312.6,640.1 309.9,639.3 319.0,642.3 C328.1,645.3 348.9,652.3 358.3,655.1 C367.6,657.9 367.8,657.7 375.2,659.3 C382.6,660.9 393.8,662.8 402.5,664.6 C411.1,666.4 421.4,668.8 427.1,670.2 C432.8,671.6 431.7,671.5 436.7,673.2 C441.7,674.9 452.1,678.4 457.1,680.2 C462.0,682.0 462.3,682.2 466.3,684.2 C470.4,686.2 478.1,690.3 481.5,692.3 C484.8,694.3 484.2,694.3 486.4,696.3 C488.6,698.3 492.7,701.1 494.8,704.3 C497.0,707.5 498.3,712.7 499.3,715.4 C500.4,718.1 500.5,718.4 501.0,720.4 C501.5,722.4 501.8,724.1 502.4,727.4 C503.0,730.7 503.8,735.4 504.6,740.0 C505.3,744.6 506.6,752.5 507.0,755.0" fill="none" stroke="#d62728" stroke-width="4.8" stroke-linecap="round" stroke-linejoin="round" />
<path d="M507.0,755.0 C507.3,757.5 508.7,765.8 509.3,770.0 C509.9,774.2 510.0,773.7 510.8,780.4 C511.5,787.1 513.1,803.3 513.7,810.0 C514.3,816.7 513.7,807.3 514.6,820.6 C515.6,833.9 518.7,878.4 519.5,890.0" fill="none" stroke="#d62728" stroke-width="4.4" stroke-linecap="round" stroke-linejoin="round" stroke-dasharray="0 5.3" stroke-dashoffset="1.30"/>
<path d="M141.7,686.4 C141.7,686.2 141.8,685.7 141.9,685.0 C142.0,684.3 142.0,683.1 142.4,682.0 C142.7,680.9 143.4,679.6 144.1,678.6 C144.8,677.6 145.5,677.2 146.4,676.3 C147.3,675.4 148.1,674.3 149.7,673.4 C151.2,672.5 153.4,671.9 155.6,671.0 C157.8,670.1 159.1,669.4 162.9,668.2 C166.8,667.0 174.4,665.1 178.7,664.0 C183.1,662.9 185.4,662.1 189.3,661.3 C193.1,660.5 197.3,659.8 201.7,659.0 C206.0,658.2 211.2,657.2 215.3,656.5 C219.4,655.8 222.8,655.1 226.2,654.5 C229.6,653.9 233.2,653.4 235.9,652.9 C238.6,652.4 238.0,652.5 242.4,651.7 C246.8,650.9 255.5,649.5 262.4,648.1 C269.3,646.7 275.1,645.3 283.9,643.3 C292.7,641.3 305.0,638.9 315.3,635.9 C325.5,632.9 336.2,628.4 345.2,625.2 C354.2,622.0 364.9,618.3 369.4,616.7 C373.8,615.1 368.2,617.2 372.0,615.7 C375.7,614.2 386.9,609.7 392.1,607.6 C397.2,605.5 399.5,604.6 402.8,603.3 C406.1,602.0 408.7,601.2 412.1,600.0 C415.4,598.8 419.5,597.4 422.7,596.2 C425.9,595.0 427.0,594.5 431.3,592.7 C435.7,590.9 440.5,589.0 449.1,585.5 C457.6,582.0 474.6,574.9 482.7,571.5 C490.7,568.1 494.0,566.4 497.3,564.9 C500.6,563.4 497.7,565.1 502.7,562.5 C507.8,559.9 523.4,551.6 527.6,549.4" fill="none" stroke="#9467bd" stroke-width="4.8" stroke-linecap="round" stroke-linejoin="round" />
<path d="M140.9,566.5 C141.1,567.1 141.6,569.5 141.8,570.2 C142.0,571.0 141.5,570.1 142.2,571.0 C143.0,571.9 145.4,574.8 146.3,575.8 C147.3,576.8 146.2,575.8 147.9,576.7 C149.5,577.6 152.0,579.5 156.4,581.4 C160.8,583.3 170.6,586.6 174.4,588.0 C178.2,589.4 175.0,587.9 179.3,589.8 C183.6,591.7 195.2,597.0 200.1,599.2 C204.9,601.4 204.4,601.2 208.4,602.9 C212.4,604.6 219.2,607.4 224.0,609.4 C228.7,611.4 233.2,613.6 236.8,615.0 C240.3,616.4 240.9,616.4 245.3,617.7 C249.6,619.1 253.5,619.9 262.8,623.1 C272.2,626.3 292.2,633.7 301.2,636.9 C310.1,640.1 307.2,639.3 316.3,642.3 C325.5,645.3 346.9,652.3 356.0,655.1 C365.2,657.9 364.2,657.7 371.2,659.3 C378.1,660.9 389.1,662.8 397.8,664.6 C406.6,666.4 417.9,668.8 423.7,670.2 C429.6,671.6 428.1,671.5 433.1,673.2 C438.1,674.9 448.9,678.4 453.8,680.2 C458.8,682.0 458.5,682.2 462.6,684.2 C466.8,686.2 475.1,690.3 478.6,692.3 C482.0,694.3 481.0,694.3 483.2,696.3 C485.4,698.3 489.6,701.1 491.7,704.3 C493.9,707.5 495.1,712.7 496.1,715.4 C497.1,718.1 497.4,718.4 497.9,720.4 C498.4,722.4 498.6,724.1 499.2,727.4 C499.8,730.7 500.7,735.4 501.4,740.0 C502.2,744.6 503.4,752.5 503.8,755.0" fill="none" stroke="#9467bd" stroke-width="4.8" stroke-linecap="round" stroke-linejoin="round" />
<path d="M503.8,755.0 C504.2,757.5 505.5,765.8 506.2,770.0 C506.9,774.2 507.0,773.7 507.8,780.4 C508.5,787.1 510.0,803.3 510.7,810.0 C511.4,816.7 510.7,807.3 511.7,820.6 C512.7,833.9 515.8,878.4 516.7,890.0" fill="none" stroke="#9467bd" stroke-width="4.4" stroke-linecap="round" stroke-linejoin="round" stroke-dasharray="0 5.3" stroke-dashoffset="3.90"/>
<path d="M141.6,686.4 C141.7,685.7 141.8,683.3 142.2,682.0 C142.6,680.7 142.7,680.0 143.8,678.6 C144.9,677.2 146.0,675.1 149.0,673.4 C152.0,671.7 155.5,670.2 162.0,668.2 C168.5,666.2 179.3,663.2 188.0,661.3 C196.7,659.3 205.3,658.1 214.0,656.5 C222.7,654.9 232.3,653.1 240.0,651.7 C247.7,650.3 247.8,650.7 260.0,648.1 C272.2,645.5 295.5,641.1 313.3,635.9 C331.1,630.7 352.2,622.1 366.7,616.7 C381.1,611.3 391.1,606.7 400.0,603.3 C408.9,599.9 406.7,601.5 420.0,596.2 C433.3,590.9 466.7,577.1 480.0,571.5 C493.3,565.9 492.7,566.2 500.0,562.5 C507.3,558.8 520.0,551.6 524.0,549.4" fill="none" stroke="#8c564b" stroke-width="6.6" stroke-linecap="round" stroke-linejoin="round" />
<path d="M140.3,566.5 C140.4,567.2 140.4,569.5 141.0,571.0 C141.6,572.5 141.9,574.1 144.0,575.8 C146.1,577.5 147.9,579.1 153.3,581.4 C158.8,583.7 168.1,586.2 176.7,589.8 C185.3,593.4 195.4,598.7 204.7,602.9 C214.0,607.1 223.5,611.6 232.7,615.0 C241.9,618.4 246.6,618.6 260.0,623.1 C273.4,627.6 295.5,636.3 313.3,642.3 C331.1,648.3 348.9,654.6 366.7,659.3 C384.5,663.9 406.1,666.7 420.0,670.2 C433.9,673.7 441.0,676.5 450.2,680.2 C459.4,683.9 468.9,688.3 475.3,692.3 C481.7,696.3 485.1,699.6 488.3,704.3 C491.5,709.0 492.8,714.4 494.4,720.4 C496.0,726.4 496.9,734.2 497.9,740.0 C498.9,745.8 499.9,752.5 500.3,755.0" fill="none" stroke="#8c564b" stroke-width="6.6" stroke-linecap="round" stroke-linejoin="round" />
<path d="M500.3,755.0 C501.0,759.2 503.1,769.5 504.4,780.4 C505.7,791.3 506.9,802.3 508.4,820.6 C509.9,838.9 512.6,878.4 513.5,890.0" fill="none" stroke="#8c564b" stroke-width="4.8" stroke-linecap="round" stroke-linejoin="round" stroke-dasharray="0 5.3" stroke-dashoffset="0.65"/>
<circle cx="142.1" cy="690.4" r="2.4" fill="#ff7f0e"/>
<circle cx="141.2" cy="788.1" r="2.4" fill="#ff7f0e"/>
<circle cx="141.2" cy="729.2" r="2.4" fill="#8c564b"/>
<circle cx="141.2" cy="739.2" r="2.4" fill="#9467bd"/>
<circle cx="141.2" cy="752.3" r="2.4" fill="#d62728"/>
<circle cx="141.2" cy="755.5" r="2.4" fill="#2ca02c"/>
</g>
<rect x="114.4" y="528.8" width="602.1" height="391.2" fill="none" stroke="#000" stroke-width="1.5"/>
<line x1="141.4" y1="920.0" x2="141.4" y2="926.5" stroke="#000" stroke-width="1.3"/>
<text x="141.4" y="953.0" font-size="28.7" text-anchor="middle" textLength="16.0" lengthAdjust="spacingAndGlyphs">0</text>
<line x1="204.3" y1="920.0" x2="204.3" y2="926.5" stroke="#000" stroke-width="1.3"/>
<text x="204.3" y="953.0" font-size="28.7" text-anchor="middle" textLength="34.0" lengthAdjust="spacingAndGlyphs">25</text>
<line x1="267.1" y1="920.0" x2="267.1" y2="926.5" stroke="#000" stroke-width="1.3"/>
<text x="267.1" y="953.0" font-size="28.7" text-anchor="middle" textLength="34.0" lengthAdjust="spacingAndGlyphs">50</text>
<line x1="330.0" y1="920.0" x2="330.0" y2="926.5" stroke="#000" stroke-width="1.3"/>
<text x="330.0" y="953.0" font-size="28.7" text-anchor="middle" textLength="34.0" lengthAdjust="spacingAndGlyphs">75</text>
<line x1="392.9" y1="920.0" x2="392.9" y2="926.5" stroke="#000" stroke-width="1.3"/>
<text x="392.9" y="953.0" font-size="28.7" text-anchor="middle" textLength="50.6" lengthAdjust="spacingAndGlyphs">100</text>
<line x1="455.7" y1="920.0" x2="455.7" y2="926.5" stroke="#000" stroke-width="1.3"/>
<text x="455.7" y="953.0" font-size="28.7" text-anchor="middle" textLength="50.6" lengthAdjust="spacingAndGlyphs">125</text>
<line x1="518.6" y1="920.0" x2="518.6" y2="926.5" stroke="#000" stroke-width="1.3"/>
<text x="518.6" y="953.0" font-size="28.7" text-anchor="middle" textLength="50.6" lengthAdjust="spacingAndGlyphs">150</text>
<line x1="581.4" y1="920.0" x2="581.4" y2="926.5" stroke="#000" stroke-width="1.3"/>
<text x="581.4" y="953.0" font-size="28.7" text-anchor="middle" textLength="50.6" lengthAdjust="spacingAndGlyphs">175</text>
<line x1="644.3" y1="920.0" x2="644.3" y2="926.5" stroke="#000" stroke-width="1.3"/>
<text x="644.3" y="953.0" font-size="28.7" text-anchor="middle" textLength="50.6" lengthAdjust="spacingAndGlyphs">200</text>
<line x1="108.1" y1="899.8" x2="114.4" y2="899.8" stroke="#000" stroke-width="1.3"/>
<text x="99.6" y="909.8" font-size="28.7" text-anchor="end" textLength="57.0" lengthAdjust="spacingAndGlyphs">2.50</text>
<line x1="108.1" y1="851.0" x2="114.4" y2="851.0" stroke="#000" stroke-width="1.3"/>
<text x="99.6" y="861.0" font-size="28.7" text-anchor="end" textLength="57.0" lengthAdjust="spacingAndGlyphs">2.75</text>
<line x1="108.1" y1="802.1" x2="114.4" y2="802.1" stroke="#000" stroke-width="1.3"/>
<text x="99.6" y="812.1" font-size="28.7" text-anchor="end" textLength="57.0" lengthAdjust="spacingAndGlyphs">3.00</text>
<line x1="108.1" y1="753.3" x2="114.4" y2="753.3" stroke="#000" stroke-width="1.3"/>
<text x="99.6" y="763.3" font-size="28.7" text-anchor="end" textLength="57.0" lengthAdjust="spacingAndGlyphs">3.25</text>
<line x1="108.1" y1="704.5" x2="114.4" y2="704.5" stroke="#000" stroke-width="1.3"/>
<text x="99.6" y="714.5" font-size="28.7" text-anchor="end" textLength="57.0" lengthAdjust="spacingAndGlyphs">3.50</text>
<line x1="108.1" y1="655.6" x2="114.4" y2="655.6" stroke="#000" stroke-width="1.3"/>
<text x="99.6" y="665.6" font-size="28.7" text-anchor="end" textLength="57.0" lengthAdjust="spacingAndGlyphs">3.75</text>
<line x1="108.1" y1="606.8" x2="114.4" y2="606.8" stroke="#000" stroke-width="1.3"/>
<text x="99.6" y="616.8" font-size="28.7" text-anchor="end" textLength="57.0" lengthAdjust="spacingAndGlyphs">4.00</text>
<line x1="108.1" y1="558.0" x2="114.4" y2="558.0" stroke="#000" stroke-width="1.3"/>
<text x="99.6" y="568.0" font-size="28.7" text-anchor="end" textLength="57.0" lengthAdjust="spacingAndGlyphs">4.25</text>
<text x="27.4" y="799.7" font-size="28.7" textLength="148.5" lengthAdjust="spacingAndGlyphs" transform="rotate(-90 27.4 799.7)">Voltage (V)</text>
<text x="228.3" y="989.6" font-size="28.7" textLength="335.5" lengthAdjust="spacingAndGlyphs">Specific Capacity (mAh g</text>
<text x="567.0" y="979.2" font-size="20.0" textLength="25.8" lengthAdjust="spacingAndGlyphs">−1</text>
<text x="595.0" y="989.6" font-size="28.7" textLength="9.0" lengthAdjust="spacingAndGlyphs">)</text>
<text x="166.8" y="902.4" font-size="27.2" font-weight="bold">UDSH@LPSC 1D air</text>
<g transform="translate(552.2,327.3) rotate(0)">
<text x="0" y="0" font-size="28.0">1</text>
<text x="12.2" y="-8.0" font-size="19.5">st</text>
</g>
<g transform="translate(423.8,353.0) rotate(-30)">
<text x="0" y="0" font-size="28.0">2</text>
<text x="15.5" y="-10.5" font-size="19.5">nd</text>
</g>
<g transform="translate(488.5,315.5) rotate(-30)">
<text x="0" y="0" font-size="28.0">6</text>
<text x="16.5" y="-8.8" font-size="19.5">th</text>
</g>
<line x1="465.3" y1="320.3" x2="471.3" y2="316.8" stroke="#000" stroke-width="2.6"/>
<g transform="translate(568.0,820.6) rotate(0)">
<text x="0" y="0" font-size="28.0">1</text>
<text x="13.0" y="-7.5" font-size="19.5">st</text>
</g>
<g transform="translate(462.5,856.5) rotate(-30)">
<text x="0" y="0" font-size="28.0">2</text>
<text x="15.5" y="-10.5" font-size="19.5">nd</text>
</g>
<g transform="translate(532.5,826.0) rotate(-30)">
<text x="0" y="0" font-size="28.0">6</text>
<text x="16.5" y="-8.8" font-size="19.5">th</text>
</g>
<line x1="505.4" y1="828.4" x2="513.4" y2="823.8" stroke="#000" stroke-width="2.6"/>
<clipPath id="clipb"><rect x="874.0" y="29.9" width="531.5" height="392.7"/></clipPath>
<g clip-path="url(#clipb)">
<path d="M898.3,175.2 L893.5,184.2 L903.1,184.2 Z" fill="#1f77b4"/>
<path d="M908.2,177.4 L903.4,186.4 L913.0,186.4 Z" fill="#1f77b4"/>
<path d="M918.0,179.1 L913.2,188.1 L922.8,188.1 Z" fill="#1f77b4"/>
<path d="M927.9,181.0 L923.1,190.0 L932.7,190.0 Z" fill="#1f77b4"/>
<path d="M937.8,182.3 L933.0,191.3 L942.6,191.3 Z" fill="#1f77b4"/>
<path d="M947.6,184.1 L942.8,193.1 L952.4,193.1 Z" fill="#1f77b4"/>
<path d="M957.5,186.4 L952.7,195.4 L962.3,195.4 Z" fill="#1f77b4"/>
<path d="M967.3,189.1 L962.5,198.1 L972.1,198.1 Z" fill="#1f77b4"/>
<path d="M977.2,190.6 L972.4,199.6 L982.0,199.6 Z" fill="#1f77b4"/>
<path d="M987.1,193.6 L982.3,202.6 L991.9,202.6 Z" fill="#1f77b4"/>
<path d="M996.9,195.4 L992.1,204.4 L1001.7,204.4 Z" fill="#1f77b4"/>
<path d="M1006.8,196.9 L1002.0,205.9 L1011.6,205.9 Z" fill="#1f77b4"/>
<path d="M1016.6,199.9 L1011.8,208.9 L1021.4,208.9 Z" fill="#1f77b4"/>
<path d="M1026.5,201.4 L1021.7,210.4 L1031.3,210.4 Z" fill="#1f77b4"/>
<path d="M1036.4,203.9 L1031.6,212.9 L1041.2,212.9 Z" fill="#1f77b4"/>
<path d="M1046.2,206.3 L1041.4,215.3 L1051.0,215.3 Z" fill="#1f77b4"/>
<path d="M1056.1,208.1 L1051.3,217.1 L1060.9,217.1 Z" fill="#1f77b4"/>
<path d="M1065.9,210.7 L1061.1,219.7 L1070.7,219.7 Z" fill="#1f77b4"/>
<path d="M1075.8,212.5 L1071.0,221.5 L1080.6,221.5 Z" fill="#1f77b4"/>
<path d="M1085.7,213.8 L1080.9,222.8 L1090.5,222.8 Z" fill="#1f77b4"/>
<path d="M1095.5,216.2 L1090.7,225.2 L1100.3,225.2 Z" fill="#1f77b4"/>
<path d="M1105.4,216.5 L1100.6,225.5 L1110.2,225.5 Z" fill="#1f77b4"/>
<path d="M1115.2,218.2 L1110.4,227.2 L1120.0,227.2 Z" fill="#1f77b4"/>
<path d="M1125.1,220.5 L1120.3,229.5 L1129.9,229.5 Z" fill="#1f77b4"/>
<path d="M1135.0,222.5 L1130.2,231.5 L1139.8,231.5 Z" fill="#1f77b4"/>
<path d="M1144.8,223.5 L1140.0,232.5 L1149.6,232.5 Z" fill="#1f77b4"/>
<path d="M1154.7,224.9 L1149.9,233.9 L1159.5,233.9 Z" fill="#1f77b4"/>
<path d="M1164.5,226.5 L1159.7,235.5 L1169.3,235.5 Z" fill="#1f77b4"/>
<path d="M1174.4,236.2 L1169.6,245.2 L1179.2,245.2 Z" fill="#1f77b4"/>
<path d="M1184.3,233.5 L1179.5,242.5 L1189.1,242.5 Z" fill="#1f77b4"/>
<path d="M1194.1,234.5 L1189.3,243.5 L1198.9,243.5 Z" fill="#1f77b4"/>
<path d="M1204.0,236.5 L1199.2,245.5 L1208.8,245.5 Z" fill="#1f77b4"/>
<path d="M1213.8,237.5 L1209.0,246.5 L1218.6,246.5 Z" fill="#1f77b4"/>
<path d="M1223.7,239.5 L1218.9,248.5 L1228.5,248.5 Z" fill="#1f77b4"/>
<path d="M1233.6,241.8 L1228.8,250.8 L1238.4,250.8 Z" fill="#1f77b4"/>
<path d="M1243.4,242.4 L1238.6,251.4 L1248.2,251.4 Z" fill="#1f77b4"/>
<path d="M1253.3,243.9 L1248.5,252.9 L1258.1,252.9 Z" fill="#1f77b4"/>
<path d="M1263.1,245.8 L1258.3,254.8 L1267.9,254.8 Z" fill="#1f77b4"/>
<path d="M1273.0,247.1 L1268.2,256.1 L1277.8,256.1 Z" fill="#1f77b4"/>
<path d="M1282.9,248.8 L1278.1,257.8 L1287.7,257.8 Z" fill="#1f77b4"/>
<path d="M1292.7,249.5 L1287.9,258.5 L1297.5,258.5 Z" fill="#1f77b4"/>
<path d="M1302.6,249.5 L1297.8,258.5 L1307.4,258.5 Z" fill="#1f77b4"/>
<path d="M1312.4,253.1 L1307.6,262.1 L1317.2,262.1 Z" fill="#1f77b4"/>
<path d="M1322.3,254.0 L1317.5,263.0 L1327.1,263.0 Z" fill="#1f77b4"/>
<path d="M1332.2,255.5 L1327.4,264.5 L1337.0,264.5 Z" fill="#1f77b4"/>
<path d="M1342.0,257.5 L1337.2,266.5 L1346.8,266.5 Z" fill="#1f77b4"/>
<path d="M1351.9,258.5 L1347.1,267.5 L1356.7,267.5 Z" fill="#1f77b4"/>
<path d="M1361.7,259.5 L1356.9,268.5 L1366.5,268.5 Z" fill="#1f77b4"/>
<path d="M1371.6,260.8 L1366.8,269.8 L1376.4,269.8 Z" fill="#1f77b4"/>
<path d="M1381.5,417.9 L1376.7,426.9 L1386.3,426.9 Z" fill="#1f77b4"/>
<circle cx="898.3" cy="319.5" r="5.4" fill="#d2691e"/>
<circle cx="908.2" cy="322.2" r="5.4" fill="#d2691e"/>
<circle cx="918.0" cy="120.3" r="5.4" fill="#d2691e"/>
<circle cx="927.9" cy="124.7" r="5.4" fill="#d2691e"/>
<circle cx="937.8" cy="115.3" r="5.4" fill="#d2691e"/>
<circle cx="947.6" cy="119.6" r="5.4" fill="#d2691e"/>
<circle cx="957.5" cy="125.7" r="5.4" fill="#d2691e"/>
<circle cx="967.3" cy="132.9" r="5.4" fill="#d2691e"/>
<circle cx="977.2" cy="124.4" r="5.4" fill="#d2691e"/>
<circle cx="987.1" cy="126.0" r="5.4" fill="#d2691e"/>
<circle cx="996.9" cy="121.7" r="5.4" fill="#d2691e"/>
<circle cx="1006.8" cy="106.7" r="5.4" fill="#d2691e"/>
<circle cx="1016.6" cy="117.3" r="5.4" fill="#d2691e"/>
<circle cx="1026.5" cy="104.4" r="5.4" fill="#d2691e"/>
<circle cx="1036.4" cy="118.0" r="5.4" fill="#d2691e"/>
<circle cx="1046.2" cy="114.7" r="5.4" fill="#d2691e"/>
<circle cx="1056.1" cy="118.0" r="5.4" fill="#d2691e"/>
<circle cx="1065.9" cy="124.5" r="5.4" fill="#d2691e"/>
<circle cx="1075.8" cy="123.1" r="5.4" fill="#d2691e"/>
<circle cx="1085.7" cy="112.4" r="5.4" fill="#d2691e"/>
<circle cx="1095.5" cy="116.7" r="5.4" fill="#d2691e"/>
<circle cx="1105.4" cy="88.0" r="5.4" fill="#d2691e"/>
<circle cx="1115.2" cy="103.6" r="5.4" fill="#d2691e"/>
<circle cx="1125.1" cy="116.9" r="5.4" fill="#d2691e"/>
<circle cx="1135.0" cy="128.7" r="5.4" fill="#d2691e"/>
<circle cx="1144.8" cy="111.6" r="5.4" fill="#d2691e"/>
<circle cx="1154.7" cy="103.7" r="5.4" fill="#d2691e"/>
<circle cx="1164.5" cy="100.0" r="5.4" fill="#d2691e"/>
<circle cx="1174.4" cy="252.9" r="5.4" fill="#d2691e"/>
<circle cx="1184.3" cy="117.1" r="5.4" fill="#d2691e"/>
<circle cx="1194.1" cy="107.7" r="5.4" fill="#d2691e"/>
<circle cx="1204.0" cy="107.7" r="5.4" fill="#d2691e"/>
<circle cx="1213.8" cy="98.7" r="5.4" fill="#d2691e"/>
<circle cx="1223.7" cy="108.0" r="5.4" fill="#d2691e"/>
<circle cx="1233.6" cy="122.3" r="5.4" fill="#d2691e"/>
<circle cx="1243.4" cy="97.7" r="5.4" fill="#d2691e"/>
<circle cx="1253.3" cy="96.0" r="5.4" fill="#d2691e"/>
<circle cx="1263.1" cy="105.3" r="5.4" fill="#d2691e"/>
<circle cx="1273.0" cy="112.7" r="5.4" fill="#d2691e"/>
<circle cx="1282.9" cy="115.3" r="5.4" fill="#d2691e"/>
<circle cx="1292.7" cy="90.7" r="5.4" fill="#d2691e"/>
<circle cx="1302.6" cy="119.4" r="5.4" fill="#d2691e"/>
<circle cx="1312.4" cy="97.3" r="5.4" fill="#d2691e"/>
<circle cx="1322.3" cy="106.3" r="5.4" fill="#d2691e"/>
<circle cx="1332.2" cy="96.7" r="5.4" fill="#d2691e"/>
<circle cx="1342.0" cy="101.3" r="5.4" fill="#d2691e"/>
<circle cx="1351.9" cy="108.9" r="5.4" fill="#d2691e"/>
<circle cx="1361.7" cy="96.4" r="5.4" fill="#d2691e"/>
<circle cx="1371.6" cy="103.6" r="5.4" fill="#d2691e"/>
</g>
<polyline points="970.8,212.2 970.8,258.0 893,258.0" fill="none" stroke="#4472c4" stroke-width="3.4"/>
<path d="M881.3,258.1 L895.2,251.1 L895.2,265.0 Z" fill="#4472c4"/>
<polyline points="1306.7,123.6 1306.7,178.9 1376,178.9" fill="none" stroke="#ed7d31" stroke-width="3.6"/>
<path d="M1388.1,178.9 L1374.5,172.1 L1374.5,185.7 Z" fill="#ed7d31"/>
<rect x="874.0" y="29.9" width="531.5" height="392.7" fill="none" stroke="#000" stroke-width="1.5"/>
<line x1="878.6" y1="422.6" x2="878.6" y2="428.9" stroke="#000" stroke-width="1.3"/>
<text x="878.6" y="455.5" font-size="28.7" text-anchor="middle" textLength="16.0" lengthAdjust="spacingAndGlyphs">0</text>
<line x1="977.2" y1="422.6" x2="977.2" y2="428.9" stroke="#000" stroke-width="1.3"/>
<text x="977.2" y="455.5" font-size="28.7" text-anchor="middle" textLength="33.6" lengthAdjust="spacingAndGlyphs">10</text>
<line x1="1075.8" y1="422.6" x2="1075.8" y2="428.9" stroke="#000" stroke-width="1.3"/>
<text x="1075.8" y="455.5" font-size="28.7" text-anchor="middle" textLength="33.6" lengthAdjust="spacingAndGlyphs">20</text>
<line x1="1174.4" y1="422.6" x2="1174.4" y2="428.9" stroke="#000" stroke-width="1.3"/>
<text x="1174.4" y="455.5" font-size="28.7" text-anchor="middle" textLength="33.6" lengthAdjust="spacingAndGlyphs">30</text>
<line x1="1273.0" y1="422.6" x2="1273.0" y2="428.9" stroke="#000" stroke-width="1.3"/>
<text x="1273.0" y="455.5" font-size="28.7" text-anchor="middle" textLength="33.6" lengthAdjust="spacingAndGlyphs">40</text>
<line x1="1371.6" y1="422.6" x2="1371.6" y2="428.9" stroke="#000" stroke-width="1.3"/>
<text x="1371.6" y="455.5" font-size="28.7" text-anchor="middle" textLength="33.6" lengthAdjust="spacingAndGlyphs">50</text>
<line x1="867.7" y1="422.4" x2="874.0" y2="422.4" stroke="#000" stroke-width="1.3"/>
<text x="861.2" y="433.2" font-size="28.7" text-anchor="end" textLength="16.0" lengthAdjust="spacingAndGlyphs">0</text>
<line x1="867.7" y1="377.7" x2="874.0" y2="377.7" stroke="#000" stroke-width="1.3"/>
<text x="861.2" y="388.5" font-size="28.7" text-anchor="end" textLength="32.0" lengthAdjust="spacingAndGlyphs">25</text>
<line x1="867.7" y1="333.0" x2="874.0" y2="333.0" stroke="#000" stroke-width="1.3"/>
<text x="861.2" y="343.8" font-size="28.7" text-anchor="end" textLength="32.0" lengthAdjust="spacingAndGlyphs">50</text>
<line x1="867.7" y1="288.3" x2="874.0" y2="288.3" stroke="#000" stroke-width="1.3"/>
<text x="861.2" y="299.1" font-size="28.7" text-anchor="end" textLength="32.0" lengthAdjust="spacingAndGlyphs">75</text>
<line x1="867.7" y1="243.6" x2="874.0" y2="243.6" stroke="#000" stroke-width="1.3"/>
<text x="861.2" y="254.4" font-size="28.7" text-anchor="end" textLength="50.6" lengthAdjust="spacingAndGlyphs">100</text>
<line x1="867.7" y1="199.0" x2="874.0" y2="199.0" stroke="#000" stroke-width="1.3"/>
<text x="861.2" y="209.8" font-size="28.7" text-anchor="end" textLength="50.6" lengthAdjust="spacingAndGlyphs">125</text>
<line x1="867.7" y1="154.3" x2="874.0" y2="154.3" stroke="#000" stroke-width="1.3"/>
<text x="861.2" y="165.1" font-size="28.7" text-anchor="end" textLength="50.6" lengthAdjust="spacingAndGlyphs">150</text>
<line x1="867.7" y1="109.6" x2="874.0" y2="109.6" stroke="#000" stroke-width="1.3"/>
<text x="861.2" y="120.4" font-size="28.7" text-anchor="end" textLength="50.6" lengthAdjust="spacingAndGlyphs">175</text>
<line x1="867.7" y1="64.9" x2="874.0" y2="64.9" stroke="#000" stroke-width="1.3"/>
<text x="861.2" y="75.7" font-size="28.7" text-anchor="end" textLength="50.6" lengthAdjust="spacingAndGlyphs">200</text>
<line x1="1405.5" y1="422.4" x2="1411.8" y2="422.4" stroke="#d2691e" stroke-width="1.3"/>
<text x="1419.5" y="433.2" font-size="28.7" fill="#d2691e" textLength="31.4" lengthAdjust="spacingAndGlyphs">90</text>
<line x1="1405.5" y1="343.9" x2="1411.8" y2="343.9" stroke="#d2691e" stroke-width="1.3"/>
<text x="1419.5" y="354.7" font-size="28.7" fill="#d2691e" textLength="31.4" lengthAdjust="spacingAndGlyphs">92</text>
<line x1="1405.5" y1="265.4" x2="1411.8" y2="265.4" stroke="#d2691e" stroke-width="1.3"/>
<text x="1419.5" y="276.2" font-size="28.7" fill="#d2691e" textLength="31.4" lengthAdjust="spacingAndGlyphs">94</text>
<line x1="1405.5" y1="186.9" x2="1411.8" y2="186.9" stroke="#d2691e" stroke-width="1.3"/>
<text x="1419.5" y="197.7" font-size="28.7" fill="#d2691e" textLength="31.4" lengthAdjust="spacingAndGlyphs">96</text>
<line x1="1405.5" y1="108.4" x2="1411.8" y2="108.4" stroke="#d2691e" stroke-width="1.3"/>
<text x="1419.5" y="119.2" font-size="28.7" fill="#d2691e" textLength="31.4" lengthAdjust="spacingAndGlyphs">98</text>
<line x1="1405.5" y1="29.9" x2="1411.8" y2="29.9" stroke="#d2691e" stroke-width="1.3"/>
<text x="1419.5" y="40.7" font-size="28.7" fill="#d2691e" textLength="48.1" lengthAdjust="spacingAndGlyphs">100</text>
<text x="796.0" y="409.8" font-size="28.7" textLength="328.0" lengthAdjust="spacingAndGlyphs" transform="rotate(-90 796.0 409.8)">Specific capacity (mAh g</text>
<text x="786.0" y="78.9" font-size="20.0" textLength="25.8" lengthAdjust="spacingAndGlyphs" transform="rotate(-90 786.0 78.9)">−1</text>
<text x="796.0" y="51.1" font-size="28.7" textLength="9.0" lengthAdjust="spacingAndGlyphs" transform="rotate(-90 796.0 51.1)">)</text>
<text x="1496.5" y="389.2" font-size="28.7" fill="#d2691e" textLength="324.0" lengthAdjust="spacingAndGlyphs" transform="rotate(-90 1496.5 389.2)">Couombic efficiency (%)</text>
<text x="1139.8" y="488.2" font-size="28.7" text-anchor="middle" textLength="184.5" lengthAdjust="spacingAndGlyphs">Cycle number</text>
<text x="1228.2" y="411.3" font-size="27.2" font-weight="bold">LPSC 1D air</text>
<clipPath id="clipd"><rect x="874.1" y="529.2" width="531.1" height="392.4"/></clipPath>
<g clip-path="url(#clipd)">
<path d="M884.7,626.9 L879.9,635.9 L889.5,635.9 Z" fill="#1f77b4"/>
<path d="M895.3,640.1 L890.5,649.1 L900.1,649.1 Z" fill="#1f77b4"/>
<path d="M906.0,644.5 L901.2,653.5 L910.8,653.5 Z" fill="#1f77b4"/>
<path d="M916.6,648.3 L911.8,657.3 L921.4,657.3 Z" fill="#1f77b4"/>
<path d="M927.2,650.1 L922.4,659.1 L932.0,659.1 Z" fill="#1f77b4"/>
<path d="M937.8,652.4 L933.0,661.4 L942.6,661.4 Z" fill="#1f77b4"/>
<path d="M948.4,653.3 L943.6,662.3 L953.2,662.3 Z" fill="#1f77b4"/>
<path d="M959.1,654.8 L954.3,663.8 L963.9,663.8 Z" fill="#1f77b4"/>
<path d="M969.7,656.3 L964.9,665.3 L974.5,665.3 Z" fill="#1f77b4"/>
<path d="M980.3,657.4 L975.5,666.4 L985.1,666.4 Z" fill="#1f77b4"/>
<path d="M990.9,658.5 L986.1,667.5 L995.7,667.5 Z" fill="#1f77b4"/>
<path d="M1001.5,659.3 L996.7,668.3 L1006.3,668.3 Z" fill="#1f77b4"/>
<path d="M1012.2,660.4 L1007.4,669.4 L1017.0,669.4 Z" fill="#1f77b4"/>
<path d="M1022.8,661.8 L1018.0,670.8 L1027.6,670.8 Z" fill="#1f77b4"/>
<path d="M1033.4,663.0 L1028.6,672.0 L1038.2,672.0 Z" fill="#1f77b4"/>
<path d="M1044.0,664.0 L1039.2,673.0 L1048.8,673.0 Z" fill="#1f77b4"/>
<path d="M1054.6,665.2 L1049.8,674.2 L1059.4,674.2 Z" fill="#1f77b4"/>
<path d="M1065.3,665.5 L1060.5,674.5 L1070.1,674.5 Z" fill="#1f77b4"/>
<path d="M1075.9,667.0 L1071.1,676.0 L1080.7,676.0 Z" fill="#1f77b4"/>
<path d="M1086.5,667.4 L1081.7,676.4 L1091.3,676.4 Z" fill="#1f77b4"/>
<path d="M1097.1,668.4 L1092.3,677.4 L1101.9,677.4 Z" fill="#1f77b4"/>
<path d="M1107.7,669.8 L1102.9,678.8 L1112.5,678.8 Z" fill="#1f77b4"/>
<path d="M1118.4,670.7 L1113.6,679.7 L1123.2,679.7 Z" fill="#1f77b4"/>
<path d="M1129.0,672.0 L1124.2,681.0 L1133.8,681.0 Z" fill="#1f77b4"/>
<path d="M1139.6,673.1 L1134.8,682.1 L1144.4,682.1 Z" fill="#1f77b4"/>
<path d="M1150.2,674.2 L1145.4,683.2 L1155.0,683.2 Z" fill="#1f77b4"/>
<path d="M1160.8,675.5 L1156.0,684.5 L1165.6,684.5 Z" fill="#1f77b4"/>
<path d="M1171.5,676.4 L1166.7,685.4 L1176.3,685.4 Z" fill="#1f77b4"/>
<path d="M1182.1,677.4 L1177.3,686.4 L1186.9,686.4 Z" fill="#1f77b4"/>
<path d="M1192.7,679.1 L1187.9,688.1 L1197.5,688.1 Z" fill="#1f77b4"/>
<path d="M1203.3,679.8 L1198.5,688.8 L1208.1,688.8 Z" fill="#1f77b4"/>
<path d="M1213.9,681.1 L1209.1,690.1 L1218.7,690.1 Z" fill="#1f77b4"/>
<path d="M1224.6,682.2 L1219.8,691.2 L1229.4,691.2 Z" fill="#1f77b4"/>
<path d="M1235.2,683.5 L1230.4,692.5 L1240.0,692.5 Z" fill="#1f77b4"/>
<path d="M1245.8,684.4 L1241.0,693.4 L1250.6,693.4 Z" fill="#1f77b4"/>
<path d="M1256.4,685.1 L1251.6,694.1 L1261.2,694.1 Z" fill="#1f77b4"/>
<path d="M1267.0,685.6 L1262.2,694.6 L1271.8,694.6 Z" fill="#1f77b4"/>
<path d="M1277.7,687.1 L1272.9,696.1 L1282.5,696.1 Z" fill="#1f77b4"/>
<path d="M1288.3,687.6 L1283.5,696.6 L1293.1,696.6 Z" fill="#1f77b4"/>
<path d="M1298.9,688.4 L1294.1,697.4 L1303.7,697.4 Z" fill="#1f77b4"/>
<path d="M1309.5,689.3 L1304.7,698.3 L1314.3,698.3 Z" fill="#1f77b4"/>
<path d="M1320.1,690.6 L1315.3,699.6 L1324.9,699.6 Z" fill="#1f77b4"/>
<path d="M1330.8,691.4 L1326.0,700.4 L1335.6,700.4 Z" fill="#1f77b4"/>
<path d="M1341.4,692.5 L1336.6,701.5 L1346.2,701.5 Z" fill="#1f77b4"/>
<path d="M1352.0,693.6 L1347.2,702.6 L1356.8,702.6 Z" fill="#1f77b4"/>
<path d="M1362.6,694.8 L1357.8,703.8 L1367.4,703.8 Z" fill="#1f77b4"/>
<path d="M1373.2,695.7 L1368.4,704.7 L1378.0,704.7 Z" fill="#1f77b4"/>
<path d="M1383.9,697.2 L1379.1,706.2 L1388.7,706.2 Z" fill="#1f77b4"/>
<path d="M1394.5,698.0 L1389.7,707.0 L1399.3,707.0 Z" fill="#1f77b4"/>
<path d="M1405.1,698.6 L1400.3,707.6 L1409.9,707.6 Z" fill="#1f77b4"/>
<circle cx="895.3" cy="850.8" r="5.4" fill="#d2691e"/>
<circle cx="906.0" cy="669.4" r="5.4" fill="#d2691e"/>
<circle cx="916.6" cy="612.1" r="5.4" fill="#d2691e"/>
<circle cx="927.2" cy="588.3" r="5.4" fill="#d2691e"/>
<circle cx="937.8" cy="584.3" r="5.4" fill="#d2691e"/>
<circle cx="948.4" cy="576.3" r="5.4" fill="#d2691e"/>
<circle cx="959.1" cy="568.8" r="5.4" fill="#d2691e"/>
<circle cx="969.7" cy="565.2" r="5.4" fill="#d2691e"/>
<circle cx="980.3" cy="563.2" r="5.4" fill="#d2691e"/>
<circle cx="990.9" cy="560.8" r="5.4" fill="#d2691e"/>
<circle cx="1001.5" cy="559.8" r="5.4" fill="#d2691e"/>
<circle cx="1012.2" cy="556.2" r="5.4" fill="#d2691e"/>
<circle cx="1022.8" cy="559.2" r="5.4" fill="#d2691e"/>
<circle cx="1033.4" cy="556.2" r="5.4" fill="#d2691e"/>
<circle cx="1044.0" cy="556.8" r="5.4" fill="#d2691e"/>
<circle cx="1054.6" cy="556.6" r="5.4" fill="#d2691e"/>
<circle cx="1065.3" cy="557.2" r="5.4" fill="#d2691e"/>
<circle cx="1075.9" cy="553.2" r="5.4" fill="#d2691e"/>
<circle cx="1086.5" cy="551.9" r="5.4" fill="#d2691e"/>
<circle cx="1097.1" cy="551.1" r="5.4" fill="#d2691e"/>
<circle cx="1107.7" cy="555.3" r="5.4" fill="#d2691e"/>
<circle cx="1118.4" cy="551.7" r="5.4" fill="#d2691e"/>
<circle cx="1129.0" cy="552.3" r="5.4" fill="#d2691e"/>
<circle cx="1139.6" cy="555.6" r="5.4" fill="#d2691e"/>
<circle cx="1150.2" cy="553.3" r="5.4" fill="#d2691e"/>
<circle cx="1160.8" cy="554.4" r="5.4" fill="#d2691e"/>
<circle cx="1171.5" cy="550.4" r="5.4" fill="#d2691e"/>
<circle cx="1182.1" cy="554.3" r="5.4" fill="#d2691e"/>
<circle cx="1192.7" cy="553.6" r="5.4" fill="#d2691e"/>
<circle cx="1203.3" cy="556.3" r="5.4" fill="#d2691e"/>
<circle cx="1213.9" cy="554.0" r="5.4" fill="#d2691e"/>
<circle cx="1224.6" cy="550.7" r="5.4" fill="#d2691e"/>
<circle cx="1235.2" cy="548.3" r="5.4" fill="#d2691e"/>
<circle cx="1245.8" cy="555.3" r="5.4" fill="#d2691e"/>
<circle cx="1256.4" cy="553.6" r="5.4" fill="#d2691e"/>
<circle cx="1267.0" cy="553.4" r="5.4" fill="#d2691e"/>
<circle cx="1277.7" cy="556.2" r="5.4" fill="#d2691e"/>
<circle cx="1288.3" cy="558.6" r="5.4" fill="#d2691e"/>
<circle cx="1298.9" cy="558.3" r="5.4" fill="#d2691e"/>
<circle cx="1309.5" cy="551.1" r="5.4" fill="#d2691e"/>
<circle cx="1320.1" cy="554.7" r="5.4" fill="#d2691e"/>
<circle cx="1330.8" cy="555.3" r="5.4" fill="#d2691e"/>
<circle cx="1341.4" cy="552.2" r="5.4" fill="#d2691e"/>
<circle cx="1352.0" cy="551.3" r="5.4" fill="#d2691e"/>
<circle cx="1362.6" cy="558.6" r="5.4" fill="#d2691e"/>
<circle cx="1373.2" cy="554.7" r="5.4" fill="#d2691e"/>
<circle cx="1383.9" cy="553.3" r="5.4" fill="#d2691e"/>
<circle cx="1394.5" cy="558.6" r="5.4" fill="#d2691e"/>
<circle cx="1405.1" cy="558.3" r="5.4" fill="#d2691e"/>
</g>
<polyline points="970.8,673.9 970.8,719.7 893,719.7" fill="none" stroke="#4472c4" stroke-width="3.4"/>
<path d="M881.3,719.8 L895.2,712.8 L895.2,726.7 Z" fill="#4472c4"/>
<polyline points="1306.7,566.3 1306.7,622.0 1376,622.0" fill="none" stroke="#ed7d31" stroke-width="3.6"/>
<path d="M1388.1,622.0 L1374.5,615.2 L1374.5,628.8 Z" fill="#ed7d31"/>
<rect x="874.1" y="529.2" width="531.1" height="392.4" fill="none" stroke="#000" stroke-width="1.5"/>
<line x1="874.1" y1="921.6" x2="874.1" y2="927.9" stroke="#000" stroke-width="1.3"/>
<text x="874.1" y="954.5" font-size="28.7" text-anchor="middle" textLength="16.0" lengthAdjust="spacingAndGlyphs">0</text>
<line x1="980.3" y1="921.6" x2="980.3" y2="927.9" stroke="#000" stroke-width="1.3"/>
<text x="980.3" y="954.5" font-size="28.7" text-anchor="middle" textLength="33.6" lengthAdjust="spacingAndGlyphs">10</text>
<line x1="1086.5" y1="921.6" x2="1086.5" y2="927.9" stroke="#000" stroke-width="1.3"/>
<text x="1086.5" y="954.5" font-size="28.7" text-anchor="middle" textLength="33.6" lengthAdjust="spacingAndGlyphs">20</text>
<line x1="1192.7" y1="921.6" x2="1192.7" y2="927.9" stroke="#000" stroke-width="1.3"/>
<text x="1192.7" y="954.5" font-size="28.7" text-anchor="middle" textLength="33.6" lengthAdjust="spacingAndGlyphs">30</text>
<line x1="1298.9" y1="921.6" x2="1298.9" y2="927.9" stroke="#000" stroke-width="1.3"/>
<text x="1298.9" y="954.5" font-size="28.7" text-anchor="middle" textLength="33.6" lengthAdjust="spacingAndGlyphs">40</text>
<line x1="1405.1" y1="921.6" x2="1405.1" y2="927.9" stroke="#000" stroke-width="1.3"/>
<text x="1405.1" y="954.5" font-size="28.7" text-anchor="middle" textLength="33.6" lengthAdjust="spacingAndGlyphs">50</text>
<line x1="867.8" y1="921.6" x2="874.1" y2="921.6" stroke="#000" stroke-width="1.3"/>
<text x="861.2" y="932.4" font-size="28.7" text-anchor="end" textLength="16.0" lengthAdjust="spacingAndGlyphs">0</text>
<line x1="867.8" y1="876.9" x2="874.1" y2="876.9" stroke="#000" stroke-width="1.3"/>
<text x="861.2" y="887.7" font-size="28.7" text-anchor="end" textLength="32.0" lengthAdjust="spacingAndGlyphs">25</text>
<line x1="867.8" y1="832.3" x2="874.1" y2="832.3" stroke="#000" stroke-width="1.3"/>
<text x="861.2" y="843.1" font-size="28.7" text-anchor="end" textLength="32.0" lengthAdjust="spacingAndGlyphs">50</text>
<line x1="867.8" y1="787.6" x2="874.1" y2="787.6" stroke="#000" stroke-width="1.3"/>
<text x="861.2" y="798.4" font-size="28.7" text-anchor="end" textLength="32.0" lengthAdjust="spacingAndGlyphs">75</text>
<line x1="867.8" y1="742.9" x2="874.1" y2="742.9" stroke="#000" stroke-width="1.3"/>
<text x="861.2" y="753.7" font-size="28.7" text-anchor="end" textLength="50.6" lengthAdjust="spacingAndGlyphs">100</text>
<line x1="867.8" y1="698.3" x2="874.1" y2="698.3" stroke="#000" stroke-width="1.3"/>
<text x="861.2" y="709.1" font-size="28.7" text-anchor="end" textLength="50.6" lengthAdjust="spacingAndGlyphs">125</text>
<line x1="867.8" y1="653.6" x2="874.1" y2="653.6" stroke="#000" stroke-width="1.3"/>
<text x="861.2" y="664.4" font-size="28.7" text-anchor="end" textLength="50.6" lengthAdjust="spacingAndGlyphs">150</text>
<line x1="867.8" y1="608.9" x2="874.1" y2="608.9" stroke="#000" stroke-width="1.3"/>
<text x="861.2" y="619.7" font-size="28.7" text-anchor="end" textLength="50.6" lengthAdjust="spacingAndGlyphs">175</text>
<line x1="867.8" y1="564.3" x2="874.1" y2="564.3" stroke="#000" stroke-width="1.3"/>
<text x="861.2" y="575.1" font-size="28.7" text-anchor="end" textLength="50.6" lengthAdjust="spacingAndGlyphs">200</text>
<line x1="1405.2" y1="921.6" x2="1411.5" y2="921.6" stroke="#d2691e" stroke-width="1.3"/>
<text x="1419.5" y="932.4" font-size="28.7" fill="#d2691e" textLength="31.4" lengthAdjust="spacingAndGlyphs">90</text>
<line x1="1405.2" y1="843.1" x2="1411.5" y2="843.1" stroke="#d2691e" stroke-width="1.3"/>
<text x="1419.5" y="853.9" font-size="28.7" fill="#d2691e" textLength="31.4" lengthAdjust="spacingAndGlyphs">92</text>
<line x1="1405.2" y1="764.6" x2="1411.5" y2="764.6" stroke="#d2691e" stroke-width="1.3"/>
<text x="1419.5" y="775.4" font-size="28.7" fill="#d2691e" textLength="31.4" lengthAdjust="spacingAndGlyphs">94</text>
<line x1="1405.2" y1="686.2" x2="1411.5" y2="686.2" stroke="#d2691e" stroke-width="1.3"/>
<text x="1419.5" y="697.0" font-size="28.7" fill="#d2691e" textLength="31.4" lengthAdjust="spacingAndGlyphs">96</text>
<line x1="1405.2" y1="607.7" x2="1411.5" y2="607.7" stroke="#d2691e" stroke-width="1.3"/>
<text x="1419.5" y="618.5" font-size="28.7" fill="#d2691e" textLength="31.4" lengthAdjust="spacingAndGlyphs">98</text>
<line x1="1405.2" y1="529.2" x2="1411.5" y2="529.2" stroke="#d2691e" stroke-width="1.3"/>
<text x="1419.5" y="540.0" font-size="28.7" fill="#d2691e" textLength="48.1" lengthAdjust="spacingAndGlyphs">100</text>
<text x="796.0" y="908.9" font-size="28.7" textLength="328.0" lengthAdjust="spacingAndGlyphs" transform="rotate(-90 796.0 908.9)">Specific capacity (mAh g</text>
<text x="786.0" y="578.1" font-size="20.0" textLength="25.8" lengthAdjust="spacingAndGlyphs" transform="rotate(-90 786.0 578.1)">−1</text>
<text x="796.0" y="550.3" font-size="28.7" textLength="9.0" lengthAdjust="spacingAndGlyphs" transform="rotate(-90 796.0 550.3)">)</text>
<text x="1496.5" y="888.4" font-size="28.7" fill="#d2691e" textLength="324.0" lengthAdjust="spacingAndGlyphs" transform="rotate(-90 1496.5 888.4)">Couombic efficiency (%)</text>
<text x="1139.8" y="987.2" font-size="28.7" text-anchor="middle" textLength="184.5" lengthAdjust="spacingAndGlyphs">Cycle number</text>
<text x="1126.2" y="908.9" font-size="27.2" font-weight="bold">UDSH@LPSC 1D air</text>
</svg>
</body></html>
